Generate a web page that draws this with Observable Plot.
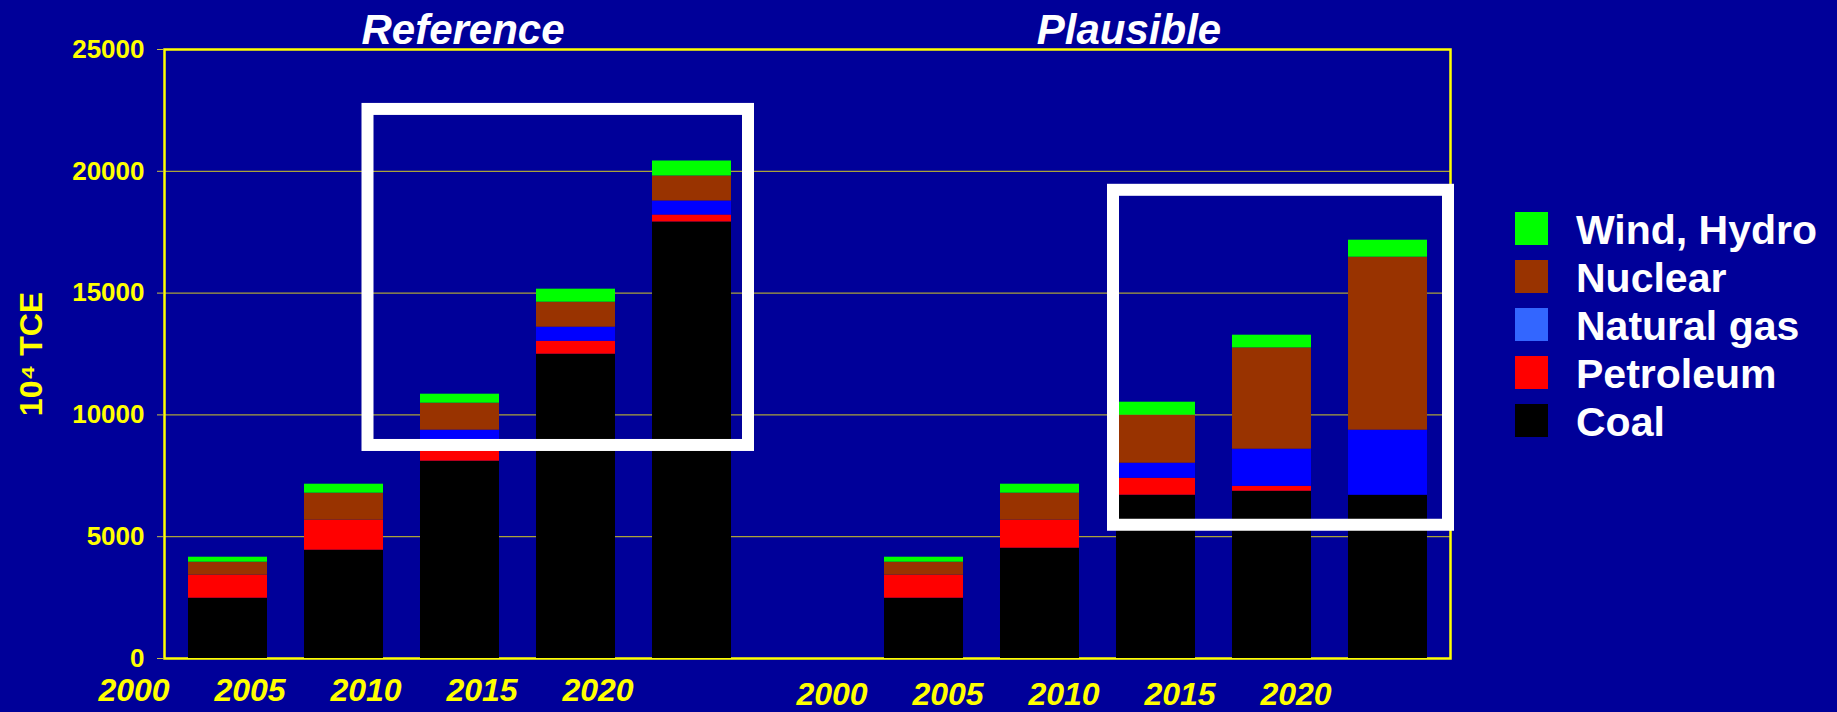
<!DOCTYPE html>
<html><head><meta charset="utf-8">
<script src="https://cdn.jsdelivr.net/npm/d3@7"></script>
<script src="https://cdn.jsdelivr.net/npm/@observablehq/plot@0.6"></script>
<style>
html,body{margin:0;padding:0;background:#000099;}
#chart{position:relative;width:1837px;height:712px;overflow:hidden;background:#000099;}
#legend{position:absolute;left:1515px;top:212px;font-family:"Liberation Sans",Arial,sans-serif;font-weight:bold;color:#ffffff;}
.row{display:flex;align-items:flex-start;height:48px;}
.sw{width:33px;height:33px;flex:none;}
.lab{font-size:41px;line-height:33px;margin-left:28px;margin-top:2px;white-space:nowrap;}
</style></head><body><div id="chart"></div>
<script>
// ---------- data ----------
const scenarios = ["Reference", "Plausible"];
const years = ["2000", "2005", "2010", "2015", "2020"];
const sources = ["Coal", "Petroleum", "Natural gas", "Nuclear", "Wind, Hydro"];
const sourceColors = ["#000000", "#ff0000", "#0000ff", "#993300", "#00ff00"];
const legendColors = ["#000000", "#ff0000", "#3366ff", "#993300", "#00ff00"];

// Reference scenario, 10^4 TCE
const refCoal       = [2475, 4446, 8099, 12492, 17919];
const refPetroleum  = [945, 1231, 800, 533, 287];
const refNaturalGas = [0, 0, 473, 575, 575];
const refNuclear    = [533, 1109, 1108, 1027, 1026];
const refWindHydro  = [205, 369, 370, 534, 616];

// Plausible scenario, 10^4 TCE
const plaCoal       = [2475, 4528, 6703, 6865, 6703];
const plaPetroleum  = [945, 1149, 698, 205, 0];
const plaNaturalGas = [0, 0, 616, 1522, 2669];
const plaNuclear    = [533, 1109, 1971, 4158, 7102];
const plaWindHydro  = [205, 369, 533, 522, 698];

const yTicks = [0, 5000, 10000, 15000, 20000, 25000];
const gridTicks = [5000, 10000, 15000, 20000];
const yLabel = "10\u2074 TCE";

// highlight boxes (annotations) in data units
const refBox = [{from: "Reference 2010", to: "Reference 2020", low: 8745, high: 22540}];
const plaBox = [{from: "Plausible 2010", to: "Plausible 2020", low: 5470, high: 19220}];

// ---------- build table ----------
const series = {
  Reference: [refCoal, refPetroleum, refNaturalGas, refNuclear, refWindHydro],
  Plausible: [plaCoal, plaPetroleum, plaNaturalGas, plaNuclear, plaWindHydro]
};
const rows = [];
for (const s of scenarios) {
  years.forEach((yr, i) => {
    sources.forEach((src, j) => {
      rows.push({scenario: s, year: yr, key: s + " " + yr, source: src, value: series[s][j][i]});
    });
  });
}
const refKeys = years.map(y => "Reference " + y);
const plaKeys = years.map(y => "Plausible " + y);
const xDomain = [...refKeys, "gap", ...plaKeys];
const tickFmt = k => k.split(" ")[1];

const font = "'Liberation Sans', Arial, Helvetica, sans-serif";

const chart = Plot.plot({
  width: 1837,
  height: 712,
  marginLeft: 164,
  marginRight: 387,
  marginTop: 49,
  marginBottom: 54,
  style: {background: "#000099", color: "#ffff00", fontFamily: font, overflow: "visible"},
  x: {type: "band", domain: xDomain, paddingInner: 0.32, paddingOuter: 0.16},
  y: {domain: [0, 25000]},
  color: {domain: sources, range: sourceColors},
  marks: [
    Plot.gridY({ticks: gridTicks, stroke: "#aaa23a", strokeOpacity: 1, strokeWidth: 1.2}),
    Plot.frame({stroke: "#ffff00", strokeWidth: 2.5}),
    Plot.axisY({ticks: yTicks, tickSize: 7, tickPadding: 13, fontSize: 26, fontWeight: "bold",
      stroke: "#c8c040", fill: "#ffff00", label: null, tickFormat: d => String(d)}),
    Plot.text([yLabel], {text: d => d, frameAnchor: "left", dx: -133, rotate: -90,
      textAnchor: "middle", lineAnchor: "middle",
      fill: "#ffff00", fontSize: 32, fontWeight: "bold"}),
    Plot.axisX({ticks: refKeys, tickFormat: tickFmt, tickSize: 0, tickPadding: 20, dx: -94,
      fontSize: 32, fontWeight: "bold", fontStyle: "italic", fill: "#ffff00", label: null}),
    Plot.axisX({ticks: plaKeys, tickFormat: tickFmt, tickSize: 0, tickPadding: 24, dx: -92,
      fontSize: 32, fontWeight: "bold", fontStyle: "italic", fill: "#ffff00", label: null}),
    Plot.barY(rows, Plot.stackY({x: "key", y: "value", fill: "source", order: sources})),
    Plot.rect(refBox, {x1: "from", x2: "to", y1: "low", y2: "high", fill: "none",
      stroke: "#ffffff", strokeWidth: 12, insetLeft: -52.5, insetRight: -17}),
    Plot.rect(plaBox, {x1: "from", x2: "to", y1: "low", y2: "high", fill: "none",
      stroke: "#ffffff", strokeWidth: 12, insetLeft: -3, insetRight: -21}),
    Plot.text([scenarios[0]], {x: s => s + " 2010", text: d => d, frameAnchor: "top", lineAnchor: "bottom",
      dy: -6, dx: 3, fill: "#ffffff", fontSize: 42, fontWeight: "bold", fontStyle: "italic"}),
    Plot.text([scenarios[1]], {x: s => s + " 2010", text: d => d, frameAnchor: "top", lineAnchor: "bottom",
      dy: -6, dx: -27, fill: "#ffffff", fontSize: 42, fontWeight: "bold", fontStyle: "italic"})
  ]
});
const container = document.getElementById("chart");
container.appendChild(chart);

// legend (top to bottom: reverse of stacking order)
const legend = d3.select(container).append("div").attr("id", "legend");
const order = sources.map((s, i) => ({s, c: legendColors[i]})).reverse();
for (const {s, c} of order) {
  const row = legend.append("div").attr("class", "row");
  row.append("div").attr("class", "sw").style("background", c);
  row.append("div").attr("class", "lab").text(s);
}
</script></body></html>
